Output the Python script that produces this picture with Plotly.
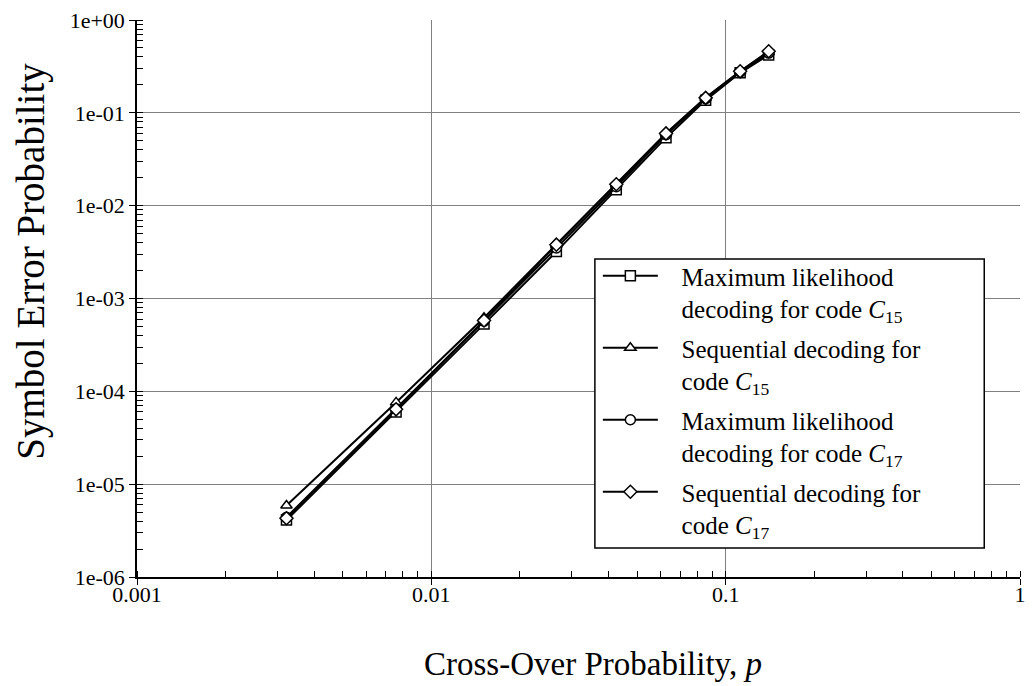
import plotly.graph_objects as go

# Cross-over probability p (x axis)
p = [0.00322, 0.00759, 0.0151, 0.0266, 0.0425, 0.0627, 0.0855, 0.112, 0.140]

# Symbol error probability for each decoder / code
ml_c15 = [4.1e-6, 6.0e-5, 5.3e-4, 3.2e-3, 1.48e-2, 5.4e-2, 1.37e-1, 2.7e-1, 4.2e-1]
seq_c15 = [5.9e-6, 7.6e-5, 6.2e-4, 3.8e-3, 1.7e-2, 6.0e-2, 1.45e-1, 2.8e-1, 4.5e-1]
ml_c17 = [4.4e-6, 6.5e-5, 5.7e-4, 3.5e-3, 1.6e-2, 5.8e-2, 1.42e-1, 2.75e-1, 4.4e-1]
seq_c17 = [4.3e-6, 6.4e-5, 5.8e-4, 3.8e-3, 1.7e-2, 6.0e-2, 1.45e-1, 2.8e-1, 4.6e-1]

INDENT = "\u00a0\u00a0\u00a0"
series_names = [
    INDENT + "Maximum likelihood<br>" + INDENT + "decoding for code <i>C</i><sub>15</sub>",
    INDENT + "Sequential decoding for<br>" + INDENT + "code <i>C</i><sub>15</sub>",
    INDENT + "Maximum likelihood<br>" + INDENT + "decoding for code <i>C</i><sub>17</sub>",
    INDENT + "Sequential decoding for<br>" + INDENT + "code <i>C</i><sub>17</sub>",
]
series_values = [ml_c15, seq_c15, ml_c17, seq_c17]
series_symbols = ["square", "triangle-up", "circle", "diamond"]

x_tick_vals = [0.001, 0.01, 0.1, 1]
x_tick_text = ["0.001", "0.01", "0.1", "1"]
y_tick_vals = [1e-6, 1e-5, 1e-4, 1e-3, 1e-2, 1e-1, 1]
y_tick_text = ["1e-06", "1e-05", "1e-04", "1e-03", "1e-02", "1e-01", "1e+00"]

FONT = "Liberation Serif"
W, H = 1033, 686
ML, MR, MT, MB = 137, 7, 20, 109
PW, PH = W - ML - MR, H - MT - MB


def px_to_paper_x(px):
    return (px - ML) / PW


def px_to_paper_y(py):
    return (H - MB - py) / PH


fig = go.Figure()
for i, (name, vals, sym) in enumerate(zip(series_names, series_values, series_symbols)):
    fig.add_trace(go.Scatter(
        x=p, y=vals, name=name, mode="lines+markers",
        legendgroup=f"g{i}",
        line=dict(color="black", width=2),
        marker=dict(symbol=sym, size=10, color="white",
                    line=dict(color="black", width=1.5)),
    ))

axis_common = dict(
    showline=True, linecolor="black", linewidth=1.5,
    showgrid=True, gridcolor="#808080", gridwidth=1,
    ticks="outside", ticklen=6, tickcolor="black", tickwidth=1,
    tickfont=dict(family=FONT, size=22, color="black"),
    zeroline=False,
    minor=dict(ticks="inside", ticklen=6, tickcolor="black", tickwidth=1,
               dtick="D1", showgrid=False),
)

fig.update_xaxes(type="log", range=[-3, 0], tickvals=x_tick_vals,
                 ticktext=x_tick_text, ticklabelstandoff=-9, **axis_common)
fig.update_yaxes(type="log", range=[-6, 0], tickvals=y_tick_vals,
                 ticktext=y_tick_text, **axis_common)

# Legend frame
fig.add_shape(type="rect", xref="paper", yref="paper",
              x0=px_to_paper_x(598), x1=px_to_paper_x(990),
              y0=px_to_paper_y(548), y1=px_to_paper_y(259),
              fillcolor="white", line=dict(color="black", width=1.5),
              layer="above")

fig.add_annotation(text="Symbol Error Probability", xref="paper", yref="paper",
                   x=px_to_paper_x(30), y=px_to_paper_y(261), showarrow=False,
                   textangle=-90, xanchor="center", yanchor="middle",
                   font=dict(family=FONT, size=39, color="black"))
fig.add_annotation(text="Cross-Over Probability, <i>p</i>", xref="paper", yref="paper",
                   x=px_to_paper_x(596), y=px_to_paper_y(664), showarrow=False,
                   xanchor="center", yanchor="middle",
                   font=dict(family=FONT, size=33, color="black"))

fig.update_layout(
    width=W, height=H,
    margin=dict(l=ML, r=MR, t=MT, b=MB),
    paper_bgcolor="white", plot_bgcolor="white",
    font=dict(family=FONT, color="black"),
    legend=dict(
        x=px_to_paper_x(601), y=px_to_paper_y(253),
        xanchor="left", yanchor="top",
        bgcolor="rgba(0,0,0,0)", borderwidth=0,
        font=dict(family=FONT, size=25, color="black"),
        itemwidth=55, valign="top", tracegroupgap=4,
    ),
)

fig.write_html("out.html")
